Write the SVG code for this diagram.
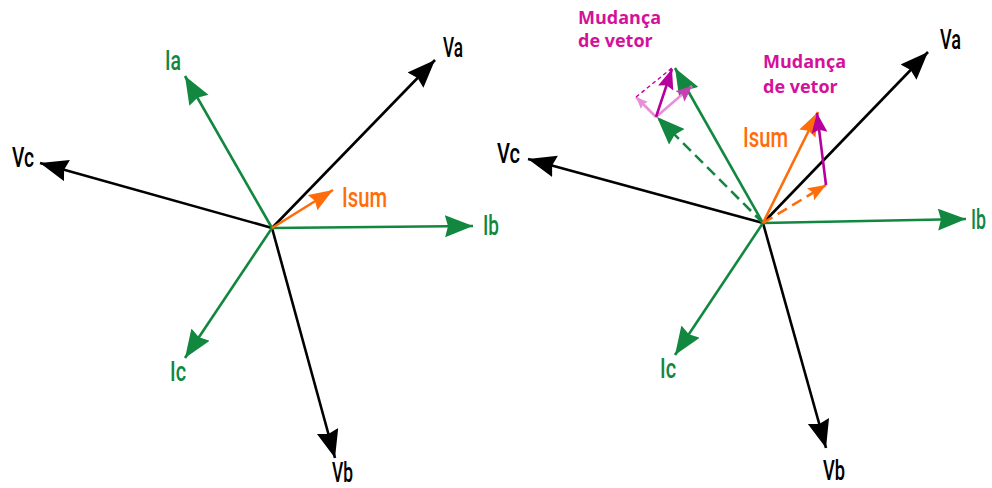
<svg xmlns="http://www.w3.org/2000/svg" width="992" height="488" viewBox="0 0 992 488">
<defs>
<style>
.bk{stroke:#000;stroke-width:2.6;fill:none}
.gr{stroke:#12873f;stroke-width:2.6;fill:none}
.or{stroke:#ff6d0a;stroke-width:2.6;fill:none}
.mg{stroke:#b5009b;stroke-width:2.6;fill:none}
.pk{stroke:#e88fd9;stroke-width:2.6;fill:none}
.dash{stroke-dasharray:11 6}
.dm{stroke:#c000a5;stroke-width:1.4;fill:none;stroke-dasharray:4 3}
.lbl{font-family:"Roboto","Liberation Sans",sans-serif;font-size:27px;font-weight:500}
.lb{fill:#000}
.lg{fill:#12873f}
.lo{fill:#ff6d0a}
.mu{font-family:"Open Sans","Liberation Sans",sans-serif;font-weight:bold;font-size:18px;fill:#d4119a}
</style>
<marker id="ab" markerUnits="userSpaceOnUse" markerWidth="30" markerHeight="24" refX="28" refY="11" orient="auto"><path d="M0,0 L28,11 L0,22 L3,11 Z" fill="#000"/></marker>
<marker id="ag" markerUnits="userSpaceOnUse" markerWidth="30" markerHeight="24" refX="28" refY="11" orient="auto"><path d="M0,0 L28,11 L0,22 L3,11 Z" fill="#12873f"/></marker>
<marker id="ao" markerUnits="userSpaceOnUse" markerWidth="26" markerHeight="20" refX="24" refY="9" orient="auto"><path d="M0,0 L24,9 L0,18 L3,9 Z" fill="#ff6d0a"/></marker>
<marker id="aos" markerUnits="userSpaceOnUse" markerWidth="20" markerHeight="16" refX="18" refY="7" orient="auto"><path d="M0,0 L18,7 L0,14 L3,7 Z" fill="#ff6d0a"/></marker>
<marker id="am" markerUnits="userSpaceOnUse" markerWidth="22" markerHeight="18" refX="20" refY="8" orient="auto"><path d="M0,0 L20,8 L0,16 L3,8 Z" fill="#b5009b"/></marker>
<marker id="ap" markerUnits="userSpaceOnUse" markerWidth="14" markerHeight="12" refX="12" refY="5" orient="auto"><path d="M0,0 L12,5 L0,10 L2,5 Z" fill="#e88fd9"/></marker>
<marker id="apm" markerUnits="userSpaceOnUse" markerWidth="18" markerHeight="16" refX="16" refY="7" orient="auto"><path d="M0,0 L16,7 L0,14 L3,7 Z" fill="#c83cb4"/></marker>
</defs>
<rect width="992" height="488" fill="#fff"/>
<g id="connectors">
<line class="bk" x1="272" y1="228" x2="435" y2="60" marker-end="url(#ab)"/>
<line class="bk" x1="272" y1="228" x2="40" y2="163" marker-end="url(#ab)"/>
<line class="bk" x1="272" y1="228" x2="335" y2="458" marker-end="url(#ab)"/>
<line class="gr" x1="272" y1="228" x2="185" y2="76" marker-end="url(#ag)"/>
<line class="gr" x1="272" y1="228" x2="473" y2="226" marker-end="url(#ag)"/>
<line class="gr" x1="272" y1="228" x2="185" y2="358" marker-end="url(#ag)"/>
<line class="or" x1="272" y1="228" x2="333" y2="190" marker-end="url(#ao)"/>
<line class="bk" x1="763" y1="223" x2="928" y2="52" marker-end="url(#ab)"/>
<line class="bk" x1="763" y1="223" x2="528" y2="159" marker-end="url(#ab)"/>
<line class="bk" x1="763" y1="223" x2="826" y2="448" marker-end="url(#ab)"/>
<line class="gr" x1="763" y1="223" x2="966" y2="219" marker-end="url(#ag)"/>
<line class="gr" x1="763" y1="223" x2="675" y2="355" marker-end="url(#ag)"/>
<line class="gr dash" x1="763" y1="223" x2="657" y2="117" marker-end="url(#ag)"/>
<line class="gr" x1="763" y1="223" x2="675" y2="68" marker-end="url(#ag)"/>
<line class="or dash" x1="763" y1="223" x2="826" y2="185" marker-end="url(#aos)"/>
<line class="or" x1="763" y1="223" x2="818" y2="112" marker-end="url(#ao)"/>
<line class="mg" x1="826" y1="185" x2="817" y2="113" marker-end="url(#am)"/>
<line class="pk" x1="656" y1="117" x2="636" y2="97" marker-end="url(#ap)"/>
<line class="pk" x1="656" y1="117" x2="692" y2="86" marker-end="url(#apm)"/>
<line class="dm" x1="636" y1="97" x2="672" y2="68"/>
<line class="mg" x1="656" y1="117" x2="672" y2="69" marker-end="url(#am)"/>
</g>
<g id="labels-left">
<text id="Va1" class="lbl lb" x="443" y="57" textLength="20" lengthAdjust="spacingAndGlyphs">Va</text>
<text id="Vc1" class="lbl lb" x="12" y="167" textLength="22" lengthAdjust="spacingAndGlyphs">Vc</text>
<text id="Vb1" class="lbl lb" x="332" y="482" textLength="21" lengthAdjust="spacingAndGlyphs">Vb</text>
<text id="Ia1" class="lbl lg" x="165" y="70" textLength="16" lengthAdjust="spacingAndGlyphs">Ia</text>
<text id="Ib1" class="lbl lg" x="483" y="235" textLength="16" lengthAdjust="spacingAndGlyphs">Ib</text>
<text id="Ic1" class="lbl lg" x="170" y="381" textLength="16" lengthAdjust="spacingAndGlyphs">Ic</text>
<text id="Isum1" class="lbl lo" x="342" y="207" textLength="45" lengthAdjust="spacingAndGlyphs">Isum</text>
</g>
<g id="labels-right">
<text id="Va2" class="lbl lb" x="940" y="49" textLength="21" lengthAdjust="spacingAndGlyphs">Va</text>
<text id="Vc2" class="lbl lb" x="497" y="163" textLength="23" lengthAdjust="spacingAndGlyphs">Vc</text>
<text id="Vb2" class="lbl lb" x="823" y="480" textLength="22" lengthAdjust="spacingAndGlyphs">Vb</text>
<text id="Ib2" class="lbl lg" x="971" y="229" textLength="15" lengthAdjust="spacingAndGlyphs">Ib</text>
<text id="Ic2" class="lbl lg" x="660" y="378" textLength="16" lengthAdjust="spacingAndGlyphs">Ic</text>
<text id="Isum2" class="lbl lo" x="743" y="147" textLength="45" lengthAdjust="spacingAndGlyphs">Isum</text>
<text class="mu" x="578" y="24">Mudança</text>
<text class="mu" x="578" y="47">de vetor</text>
<text class="mu" x="763" y="68">Mudança</text>
<text class="mu" x="763" y="93">de vetor</text>
</g>
</svg>
